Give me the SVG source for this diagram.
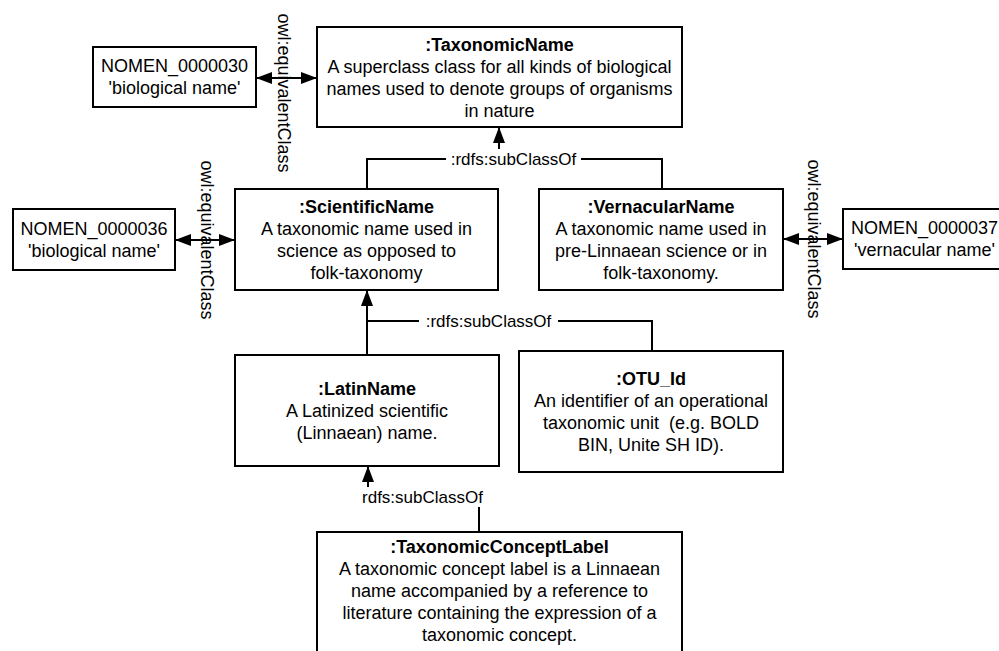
<svg xmlns="http://www.w3.org/2000/svg" width="999" height="651" viewBox="0 0 999 651">
  <style>
    .box { fill: #ffffff; stroke: #000000; stroke-width: 2; }
    .t { font-family: "Liberation Sans", Arial, sans-serif; font-size: 18px; fill: #000000; text-anchor: middle; }
    .b { font-weight: bold; }
    .edge { fill: none; stroke: #000000; stroke-width: 2; }
    .lbl { font-family: "Liberation Sans", Arial, sans-serif; font-size: 17px; fill: #000000; text-anchor: middle; }
    .vlbl { font-family: "Liberation Sans", Arial, sans-serif; font-size: 18px; fill: #000000; text-anchor: middle; }
    .lblbg { fill: #ffffff; }
  </style>
  <defs>
    <marker id="arrow" markerUnits="userSpaceOnUse" markerWidth="18" markerHeight="14" refX="16" refY="6" orient="auto-start-reverse">
      <path d="M0,0 L16,6 L0,12 Z" fill="#000000"/>
    </marker>
  </defs>

  <rect width="999" height="651" fill="#ffffff"/>

  <!-- connectors -->
  <g id="connectors">
    <!-- owl:equivalentClass links -->
    <path class="edge" d="M256,78 H317" marker-start="url(#arrow)" marker-end="url(#arrow)"/>
    <text class="vlbl" transform="translate(284,93) rotate(90)" x="0" y="6">owl:equivalentClass</text>

    <path class="edge" d="M175,240 H235" marker-start="url(#arrow)" marker-end="url(#arrow)"/>
    <text class="vlbl" transform="translate(207,240) rotate(90)" x="0" y="6">owl:equivalentClass</text>

    <path class="edge" d="M783,239 H843" marker-start="url(#arrow)" marker-end="url(#arrow)"/>
    <text class="vlbl" transform="translate(814,239) rotate(90)" x="0" y="6">owl:equivalentClass</text>

    <!-- ScientificName / VernacularName subClassOf TaxonomicName -->
    <path class="edge" d="M367,189 V159 H662 V189"/>
    <path class="edge" d="M499,159 V127" marker-end="url(#arrow)"/>
    <rect class="lblbg" x="446" y="149" width="135" height="20"/>
    <text class="lbl" x="513.5" y="165">:rdfs:subClassOf</text>

    <!-- LatinName / OTU_Id subClassOf ScientificName -->
    <path class="edge" d="M367,355 V290" marker-end="url(#arrow)"/>
    <path class="edge" d="M367,321 H652 V351"/>
    <rect class="lblbg" x="419" y="311" width="139" height="20"/>
    <text class="lbl" x="488.5" y="327">:rdfs:subClassOf</text>

    <!-- TaxonomicConceptLabel subClassOf LatinName -->
    <path class="edge" d="M479,532 V497 H368 V466" marker-end="url(#arrow)"/>
    <rect class="lblbg" x="356" y="487" width="133" height="20"/>
    <text class="lbl" x="422.5" y="503">rdfs:subClassOf</text>
  </g>

  <!-- nodes -->
  <g id="TaxonomicName">
    <rect class="box" x="317" y="27" width="365" height="100"/>
    <text class="t b" x="499.5" y="51">:TaxonomicName</text>
    <text class="t" x="499.5" y="73">A superclass class for all kinds of biological</text>
    <text class="t" x="499.5" y="95">names used to denote groups of organisms</text>
    <text class="t" x="499.5" y="117">in nature</text>
  </g>

  <g id="NOMEN_0000030">
    <rect class="box" x="93" y="47" width="163" height="60"/>
    <text class="t" x="174.5" y="72">NOMEN_0000030</text>
    <text class="t" x="174.5" y="94">'biological name'</text>
  </g>

  <g id="ScientificName">
    <rect class="box" x="235" y="189" width="263" height="101"/>
    <text class="t b" x="366.5" y="212.5">:ScientificName</text>
    <text class="t" x="366.5" y="234.5">A taxonomic name used in</text>
    <text class="t" x="366.5" y="256.5">science as opposed to</text>
    <text class="t" x="366.5" y="278.5">folk-taxonomy</text>
  </g>

  <g id="VernacularName">
    <rect class="box" x="539" y="189" width="244" height="101"/>
    <text class="t b" x="661" y="212.5">:VernacularName</text>
    <text class="t" x="661" y="234.5">A taxonomic name used in</text>
    <text class="t" x="661" y="256.5">pre-Linnaean science or in</text>
    <text class="t" x="661" y="278.5">folk-taxonomy.</text>
  </g>

  <g id="NOMEN_0000036">
    <rect class="box" x="13" y="209" width="162" height="61"/>
    <text class="t" x="94" y="234.5">NOMEN_0000036</text>
    <text class="t" x="94" y="256.5">'biological name'</text>
  </g>

  <g id="NOMEN_0000037">
    <rect class="box" x="843" y="209" width="163" height="60"/>
    <text class="t" x="924.5" y="234">NOMEN_0000037</text>
    <text class="t" x="924.5" y="256">'vernacular name'</text>
  </g>

  <g id="LatinName">
    <rect class="box" x="235" y="355" width="264" height="111"/>
    <text class="t b" x="367" y="394.5">:LatinName</text>
    <text class="t" x="367" y="416.5">A Latinized scientific</text>
    <text class="t" x="367" y="438.5">(Linnaean) name.</text>
  </g>

  <g id="OTU_Id">
    <rect class="box" x="519" y="351" width="264" height="121"/>
    <text class="t b" x="651" y="384.5">:OTU_Id</text>
    <text class="t" x="651" y="406.5">An identifier of an operational</text>
    <text class="t" x="651" y="428.5" xml:space="preserve">taxonomic unit  (e.g. BOLD</text>
    <text class="t" x="651" y="450.5">BIN, Unite SH ID).</text>
  </g>

  <g id="TaxonomicConceptLabel">
    <rect class="box" x="317" y="532" width="365" height="124"/>
    <text class="t b" x="499.5" y="553">:TaxonomicConceptLabel</text>
    <text class="t" x="499.5" y="575">A taxonomic concept label is a Linnaean</text>
    <text class="t" x="499.5" y="597">name accompanied by a reference to</text>
    <text class="t" x="499.5" y="619">literature containing the expression of a</text>
    <text class="t" x="499.5" y="641">taxonomic concept.</text>
  </g>
</svg>
